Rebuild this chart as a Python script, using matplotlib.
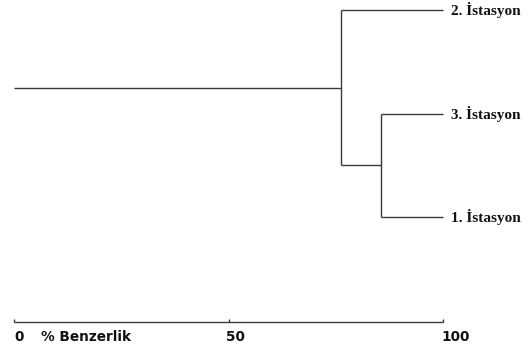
import matplotlib.pyplot as plt

# leaves from top to bottom and the similarity (%) at which groups join
leaves = ["2. İstasyon", "3. İstasyon", "1. İstasyon"]
leaf_sim = 100
join_31 = 85.5      # 3. and 1. istasyon
join_all = 76.2     # (3,1) with 2. istasyon
ticks = [0, 50, 100]
axis_label = "% Benzerlik"

line_kw = dict(color="#3a3a3a", lw=1.0, solid_capstyle="butt")
lab_kw = dict(family="DejaVu Sans", fontweight="bold", fontsize=9.8,
              va="center", ha="left", color="#111111")

fig = plt.figure(figsize=(5.32, 3.47), dpi=100)
ax = fig.add_axes([0, 0, 1, 1])
ax.set_xlim(-3.26, 120.7)
ax.set_ylim(3.256, -0.0966)
ax.axis("off")

y = {name: i for i, name in enumerate(leaves)}
y_31 = (y["3. İstasyon"] + y["1. İstasyon"]) / 2
y_all = (y["2. İstasyon"] + y_31) / 2

# lower cluster (3 + 1)
for name in ["3. İstasyon", "1. İstasyon"]:
    ax.plot([join_31, leaf_sim], [y[name], y[name]], **line_kw)
ax.plot([join_31, join_31], [y["3. İstasyon"], y["1. İstasyon"]], **line_kw)

# top join
ax.plot([join_all, leaf_sim], [y["2. İstasyon"]] * 2, **line_kw)
ax.plot([join_all, join_31], [y_31, y_31], **line_kw)
ax.plot([join_all, join_all], [y["2. İstasyon"], y_31], **line_kw)
ax.plot([0, join_all], [y_all, y_all], **line_kw)

for name in leaves:
    ax.text(leaf_sim + 1.9, y[name], name, family="Liberation Serif",
            fontweight="bold", fontsize=11, va="center", ha="left",
            color="#111111")

# similarity scale
axis_y = 3.01
ax.plot([ticks[0], ticks[-1]], [axis_y, axis_y], **line_kw)
for t in ticks:
    ax.plot([t, t], [axis_y - 0.02, axis_y], **line_kw)
lab_y = 3.16
ax.text(0, lab_y, "0", **lab_kw)
ax.text(49.4, lab_y, "50", **lab_kw)
ax.text(99.5, lab_y, "100", **lab_kw)
ax.text(6.3, lab_y, axis_label, **lab_kw)

fig.savefig("out.png", dpi=100)
